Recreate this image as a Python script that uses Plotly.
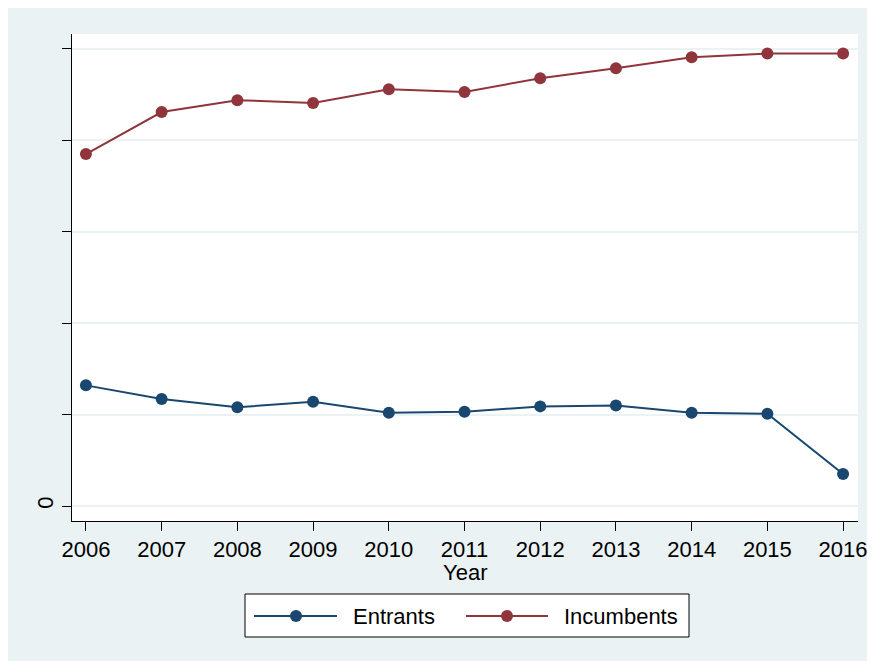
import plotly.graph_objects as go

years = [2006, 2007, 2008, 2009, 2010, 2011, 2012, 2013, 2014, 2015, 2016]
entrants = [1.32, 1.17, 1.08, 1.14, 1.02, 1.03, 1.09, 1.10, 1.02, 1.01, 0.35]
incumbents = [3.85, 4.31, 4.44, 4.41, 4.56, 4.53, 4.68, 4.79, 4.91, 4.95, 4.95]
y_ticks = [0, 1, 2, 3, 4, 5]
y_ticktext = ["0", "", "", "", "", ""]

COLORS = {"Entrants": "#1A476F", "Incumbents": "#90353B"}
BG = "#EAF2F3"
FONT = "Liberation Sans, Arial, sans-serif"

W, H = 859, 653
L, R, T, B = 64, 9, 26, 140
PW, PH = W - L - R, H - T - B


def px_x(x):
    return (x - L) / PW


def px_y(y):
    return (T + PH - y) / PH


fig = go.Figure()
for name, vals in [("Entrants", entrants), ("Incumbents", incumbents)]:
    fig.add_trace(
        go.Scatter(
            x=years,
            y=vals,
            mode="lines+markers",
            name=name,
            line=dict(color=COLORS[name], width=2),
            marker=dict(color=COLORS[name], size=12),
            showlegend=False,
        )
    )

# hand-drawn Stata-style legend box (pixel positions in figure coords)
shapes = [
    dict(type="rect", xref="paper", yref="paper",
         x0=px_x(237), x1=px_x(681), y0=px_y(586), y1=px_y(629),
         line=dict(color="black", width=1), fillcolor="white"),
]
annotations = [
    dict(text="Year", xref="paper", yref="paper", x=0.5, y=px_y(564),
         xanchor="center", yanchor="middle", showarrow=False,
         font=dict(size=22, color="black", family=FONT)),
]
legend_items = [("Entrants", 246, 329, 288, 343), ("Incumbents", 458, 540, 499, 554)]
for name, lx0, lx1, mx, tx in legend_items:
    ly = px_y(608)
    shapes.append(dict(type="line", xref="paper", yref="paper",
                       x0=px_x(lx0), x1=px_x(lx1), y0=ly, y1=ly,
                       line=dict(color=COLORS[name], width=2)))
    shapes.append(dict(type="circle", xref="paper", yref="paper",
                       xsizemode="pixel", ysizemode="pixel",
                       xanchor=px_x(mx), yanchor=ly,
                       x0=-6, x1=6, y0=-6, y1=6,
                       fillcolor=COLORS[name], line=dict(width=0)))
    annotations.append(dict(text=name, xref="paper", yref="paper",
                            x=px_x(tx), y=ly, xanchor="left", yanchor="middle",
                            showarrow=False, font=dict(size=22, color="black", family=FONT)))

fig.update_layout(
    width=W,
    height=H,
    margin=dict(l=L, r=R, t=T, b=B),
    paper_bgcolor=BG,
    plot_bgcolor="white",
    font=dict(family=FONT, color="black"),
    shapes=shapes,
    annotations=annotations,
)
fig.update_xaxes(
    range=[2005.816, 2016.197],
    tickvals=years,
    ticks="outside",
    ticklen=9,
    tickcolor="black",
    tickfont=dict(size=22),
    ticklabeloverflow="allow",
    automargin=False,
    showline=True,
    linecolor="black",
    linewidth=1,
    showgrid=False,
    zeroline=False,
)
fig.update_yaxes(
    range=[-0.164, 5.164],
    tickvals=y_ticks,
    ticktext=y_ticktext,
    tickangle=-90,
    ticks="outside",
    ticklen=9,
    tickcolor="black",
    tickfont=dict(size=22),
    automargin=False,
    showline=True,
    linecolor="black",
    linewidth=1,
    showgrid=True,
    gridcolor=BG,
    gridwidth=2,
    zeroline=False,
)

fig.write_html("out.html")
